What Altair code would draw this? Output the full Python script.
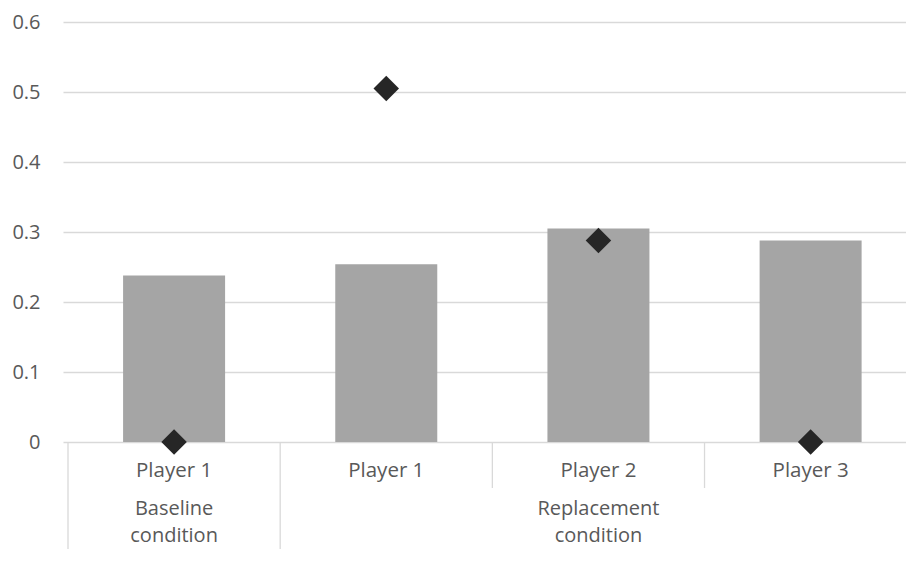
import altair as alt
import pandas as pd

conditions = ["Baseline condition", "Replacement condition", "Replacement condition", "Replacement condition"]
players = ["Player 1", "Player 1", "Player 2", "Player 3"]
bar_values = [0.238, 0.254, 0.305, 0.288]
diamond_values = [0.0, 0.505, 0.288, 0.0]
y_ticks = [0, 0.1, 0.2, 0.3, 0.4, 0.5, 0.6]

df = pd.DataFrame({
    "slot": list(range(len(players))),
    "condition": conditions,
    "player": players,
    "bar": bar_values,
    "diamond": diamond_values,
})

FONT = "Open Sans"
TXT = "#595959"
GRID = "#D9D9D9"

xscale = alt.Scale(domain=[0, 3.926], nice=False, zero=False)
yscale = alt.Scale(domain=[0, 0.6], nice=False)

base = alt.Chart(df).transform_calculate(center="datum.slot + 0.5")

bars = base.mark_bar(size=102, color="#A5A5A5").encode(
    x=alt.X("center:Q", scale=xscale, axis=None),
    y=alt.Y("bar:Q", scale=yscale, title=None,
            axis=alt.Axis(values=y_ticks, domain=False, ticks=False,
                          labelPadding=23, labelFontSize=20, labelFont=FONT,
                          labelColor=TXT, gridColor=GRID, gridWidth=1.3,
                          labelExpr="datum.value == 0 ? '0' : format(datum.value, '.1f')")),
)

diamonds = base.mark_point(shape="diamond", filled=True, size=650, color="#262626", opacity=1).encode(
    x=alt.X("center:Q", scale=xscale, axis=None),
    y=alt.Y("diamond:Q", scale=yscale),
)

player_labels = base.mark_text(baseline="alphabetic", fontSize=20.5, font=FONT, color=TXT).encode(
    x=alt.X("center:Q", scale=xscale, axis=None),
    y=alt.value(455),
    text="player:N",
)

group_labels = alt.Chart(df).transform_aggregate(
    start="min(slot)", end="max(slot)", groupby=["condition"]
).transform_calculate(
    gcenter="(datum.start + datum.end + 1) / 2"
).mark_text(baseline="alphabetic", fontSize=20, font=FONT, color=TXT,
            lineBreak=" ", lineHeight=27).encode(
    x=alt.X("gcenter:Q", scale=xscale, axis=None),
    y=alt.value(493),
    text="condition:N",
)

seps = alt.Chart(df).transform_window(
    first="min(slot)", groupby=["condition"], frame=[None, None]
).transform_calculate(is_first="datum.slot == datum.first")

long_rules = seps.transform_filter("datum.is_first").mark_rule(color=GRID, strokeWidth=1.3).encode(
    x=alt.X("slot:Q", scale=xscale, axis=None),
    y=alt.value(420),
    y2=alt.value(527),
)

short_rules = seps.transform_filter("!datum.is_first").mark_rule(color=GRID, strokeWidth=1.3).encode(
    x=alt.X("slot:Q", scale=xscale, axis=None),
    y=alt.value(420),
    y2=alt.value(466),
)

chart = alt.layer(bars, long_rules, short_rules, diamonds, player_labels, group_labels).properties(
    width=843,
    height=420,
    autosize=alt.AutoSizeParams(type="none"),
    padding={"left": 55, "top": 14, "right": 0, "bottom": 107},
).configure_view(stroke=None)

chart.save("out.html", embed_options={"renderer": "svg", "actions": False})
